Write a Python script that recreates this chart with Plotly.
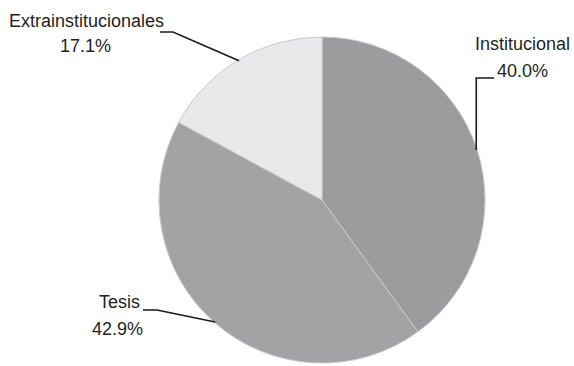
import math
import plotly.graph_objects as go

labels = ["Institucional", "Tesis", "Extrainstitucionales"]
values = [40.0, 42.9, 17.1]
colors = ["#9c9c9e", "#a3a3a5", "#e9e9eb"]

W, H = 574, 366
CX, CY, R = 322, 200, 163  # pie centre / radius in pixels

def px(x):
    return x / W

def py(y):
    return 1 - y / H

fig = go.Figure(go.Pie(
    labels=labels,
    values=values,
    sort=False,
    direction="clockwise",
    rotation=0,
    textinfo="none",
    hoverinfo="label+percent",
    marker=dict(colors=colors, line=dict(color="#c8c8c8", width=1)),
    domain=dict(x=[px(CX - R), px(CX + R)], y=[py(CY + R), py(CY - R)]),
    showlegend=False,
))

# mid-angle edge points of each slice, derived from the data
total = sum(values)
edges = []
acc = 0.0
for v in values:
    mid = (acc + v / 2) / total * 2 * math.pi
    edges.append((CX + R * 0.995 * math.sin(mid), CY - R * 0.995 * math.cos(mid)))
    acc += v

# elbow points for leader lines (layout positions)
elbows = {
    "Institucional": [(None, 78), (494, 78)],
    "Tesis": [(157, 310), (143, 310)],
    "Extrainstitucionales": [(173, 32), (160, 32)],
}

shapes = []
for lab, (ex, ey) in zip(labels, edges):
    pts = [(ex, ey)]
    for (x, y) in elbows[lab]:
        pts.append((ex if x is None else x, y))
    path = "M " + " L ".join(f"{px(x):.5f},{py(y):.5f}" for x, y in pts)
    shapes.append(dict(type="path", path=path, xref="paper", yref="paper",
                       line=dict(color="#1a1a1a", width=1.6)))

pct = [f"{v / total * 100:.1f}%" for v in values]
font = dict(family="Liberation Sans, Arial, sans-serif", size=18, color="#231f20")
ann_pos = {
    "Institucional": [(522, 44), (522, 71)],
    "Tesis": [(119, 302), (117, 329)],
    "Extrainstitucionales": [(86, 21), (85, 46)],
}
annotations = []
for lab, p in zip(labels, pct):
    (x1, y1), (x2, y2) = ann_pos[lab]
    annotations.append(dict(text=lab, x=px(x1), y=py(y1), xref="paper", yref="paper",
                            showarrow=False, font=font, xanchor="center", yanchor="middle"))
    annotations.append(dict(text=p, x=px(x2), y=py(y2), xref="paper", yref="paper",
                            showarrow=False, font=font, xanchor="center", yanchor="middle"))

fig.update_layout(
    width=W, height=H,
    margin=dict(l=0, r=0, t=0, b=0),
    paper_bgcolor="white",
    plot_bgcolor="white",
    shapes=shapes,
    annotations=annotations,
)

fig.write_html(
    "out.html",
    config={"displayModeBar": False},
    post_script="document.body.style.margin='0';document.body.style.overflow='hidden';",
)
